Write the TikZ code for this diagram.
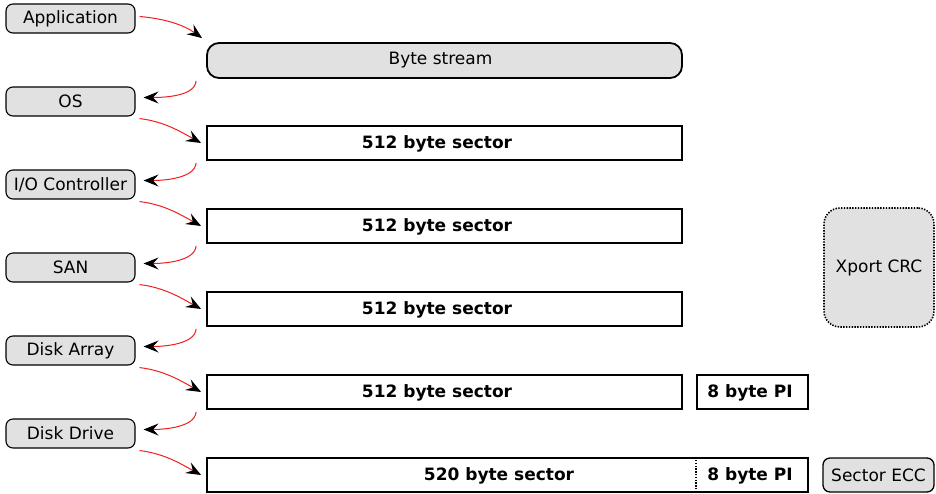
\documentclass[tikz,border=0pt]{standalone}
\usepackage{fontspec}
\setmainfont{DejaVu Sans}
\usetikzlibrary{arrows.meta,calc}
\definecolor{boxgray}{RGB}{225,225,225}
\definecolor{arrred}{RGB}{240,30,30}
\begin{document}
\begin{tikzpicture}[x=1pt,y=-1pt,
  font=\fontsize{17}{20}\selectfont,
  layer/.style={draw=black, fill=boxgray, rounded corners=7pt, line width=1.1pt,
    minimum width=129pt, minimum height=29pt, inner sep=0pt},
  sector/.style={draw=black, line width=1.8pt, minimum width=475pt, minimum height=34pt,
    inner sep=0pt, text height=12.5pt, text depth=2.5pt, font=\fontsize{17}{20}\selectfont\bfseries},
  flow/.style={draw=arrred, line width=1pt,
    -{Stealth[black, length=15pt, width=12pt, inset=5.5pt]}},
]
\useasboundingbox (0,0) rectangle (936,493);

% left column
\node[layer] (app) at (70.5,18.5)  {Application};
\node[layer] (os)  at (70.5,101.5) {OS};
\node[layer] (io)  at (70.5,184.5) {I/O Controller};
\node[layer] (san) at (70.5,267.5) {SAN};
\node[layer] (da)  at (70.5,350.5) {Disk Array};
\node[layer] (dd)  at (70.5,433.5) {Disk Drive};

% right column
\node[draw=black, fill=boxgray, rounded corners=12pt, line width=1.8pt,
  minimum width=475pt, minimum height=35pt, inner sep=0pt] (bs) at (444.5,60.5) {Byte stream\kern8pt};
\node[sector] (s1) at (444.5,143) {512 byte sector\kern15pt};
\node[sector] (s2) at (444.5,226) {512 byte sector\kern15pt};
\node[sector] (s3) at (444.5,309) {512 byte sector\kern15pt};
\node[sector] (s4) at (444.5,392) {512 byte sector\kern15pt};
\node[sector, minimum width=111pt] (pi4) at (752.5,392) {8 byte PI\kern5pt};

\node[sector, minimum width=601pt] (s5) at (507.5,475) {};
\node[font=\fontsize{17}{20}\selectfont\bfseries, text height=12.5pt, text depth=2.5pt] (t5) at (499,475) {520 byte sector};
\node[sector, draw=none, minimum width=111pt] (pi5) at (752.5,475) {8 byte PI\kern5pt};
\draw[line width=1.5pt, dash pattern=on 1.4pt off 1.4pt] (pi5.north west) -- (pi5.south west);

\node[draw=black, fill=boxgray, rounded corners=7pt, line width=1.3pt,
  minimum width=111pt, minimum height=34pt, inner sep=0pt] (ecc) at (878.5,475) {Sector ECC};
\node[draw=black, fill=boxgray, rounded corners=16pt, line width=1.6pt,
  dash pattern=on 1.4pt off 1.4pt,
  minimum width=110pt, minimum height=119pt, inner sep=0pt] (crc) at (879,267.5) {Xport CRC};

% arrows: layer -> representation
\draw[flow] ($(app.east)+(4,-2)$) .. controls +(25,2) and +(-18,-13) .. ($(bs.north west)+(-4,-4)$);
\draw[flow] ($(os.south east)+(4,2)$) .. controls +(25,3) and +(-20,-11) .. ($(s1.west)+(-5,0)$);
\draw[flow] ($(io.south east)+(4,2)$) .. controls +(25,3) and +(-20,-11) .. ($(s2.west)+(-5,0)$);
\draw[flow] ($(san.south east)+(4,2)$) .. controls +(25,3) and +(-20,-11) .. ($(s3.west)+(-5,0)$);
\draw[flow] ($(da.south east)+(4,2)$) .. controls +(25,3) and +(-20,-11) .. ($(s4.west)+(-5,0)$);
\draw[flow] ($(dd.south east)+(4,2)$) .. controls +(25,3) and +(-20,-11) .. ($(s5.west)+(-5,0)$);

% arrows: representation -> next layer
\draw[flow] ($(bs.south west)+(-10,2)$) .. controls +(-1,15) and +(22,0) .. ($(os.east)+(8,-4)$);
\draw[flow] ($(s1.south west)+(-10,2)$) .. controls +(-1,15) and +(22,0) .. ($(io.east)+(8,-4)$);
\draw[flow] ($(s2.south west)+(-10,2)$) .. controls +(-1,15) and +(22,0) .. ($(san.east)+(8,-4)$);
\draw[flow] ($(s3.south west)+(-10,2)$) .. controls +(-1,15) and +(22,0) .. ($(da.east)+(8,-4)$);
\draw[flow] ($(s4.south west)+(-10,2)$) .. controls +(-1,15) and +(22,0) .. ($(dd.east)+(8,-4)$);
\end{tikzpicture}
\end{document}
